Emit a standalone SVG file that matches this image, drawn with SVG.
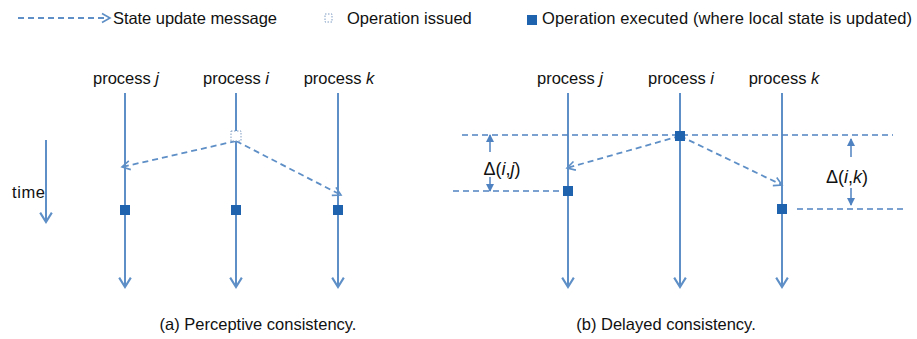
<svg xmlns="http://www.w3.org/2000/svg" width="917" height="339" viewBox="0 0 917 339">
  <style>
    .txt { font-family: "Liberation Sans", Arial, sans-serif; fill: #111; }
    .lbl { font-size: 16.5px; }
    .leg { font-size: 16.5px; }
    .cap { font-size: 16.5px; }
    .delta { font-size: 18px; }
    .proc { stroke: #5e8fc6; stroke-width: 2; fill: none; marker-end: url(#chev); }
    .msg { stroke: #5e8fc6; stroke-width: 1.8; stroke-dasharray: 6 4; fill: none; marker-end: url(#chevMsg); }
    .guide { stroke: #4f82c0; stroke-width: 1.5; stroke-dasharray: 6 4; fill: none; }
    .dim { stroke: #4f82c0; stroke-width: 1.5; fill: none; marker-end: url(#tri); }
    .exec { fill: #1f63ae; }
    .issued { fill: #fff; stroke: #7f9cc0; stroke-width: 1; stroke-dasharray: 1.5 1.5; }
  </style>
  <defs>
    <marker id="chev" markerUnits="userSpaceOnUse" markerWidth="14" markerHeight="14" refX="10" refY="6" orient="auto" viewBox="0 0 12 12">
      <path d="M2,1 L10,6 L2,11" fill="none" stroke="#5e8fc6" stroke-width="1.8"/>
    </marker>
    <marker id="chevMsg" markerUnits="userSpaceOnUse" markerWidth="12" markerHeight="12" refX="10" refY="6" orient="auto" viewBox="0 0 12 12">
      <path d="M2,1.5 L10,6 L2,10.5" fill="none" stroke="#5e8fc6" stroke-width="1.6"/>
    </marker>
    <marker id="tri" markerUnits="userSpaceOnUse" markerWidth="8" markerHeight="8" refX="7" refY="4" orient="auto" viewBox="0 0 8 8">
      <path d="M0,0 L8,4 L0,8 Z" fill="#4f82c0"/>
    </marker>
  </defs>

  <!-- legend -->
  <g id="legend">
    <line class="msg" x1="18" y1="18" x2="110" y2="18"/>
    <text class="txt leg" x="113" y="24" textLength="164">State update message</text>
    <rect class="issued" x="325" y="14" width="7" height="8"/>
    <text class="txt leg" x="347" y="24">Operation issued</text>
    <rect class="exec" x="527" y="15" width="10" height="10"/>
    <text class="txt leg" x="542" y="24" textLength="370">Operation executed (where local state is updated)</text>
  </g>

  <!-- time axis -->
  <g id="time">
    <line class="proc" x1="46" y1="140" x2="46" y2="222"/>
    <text class="txt lbl" x="12" y="198" textLength="33">time</text>
  </g>

  <!-- (a) perceptive consistency -->
  <g id="a-proc-j">
    <text class="txt lbl" x="126" y="84" text-anchor="middle">process <tspan font-style="italic">j</tspan></text>
    <line class="proc" x1="125" y1="93" x2="125" y2="287"/>
  </g>
  <g id="a-proc-i">
    <text class="txt lbl" x="236" y="84" text-anchor="middle">process <tspan font-style="italic">i</tspan></text>
    <line class="proc" x1="236" y1="93" x2="236" y2="287"/>
  </g>
  <g id="a-proc-k">
    <text class="txt lbl" x="339" y="84" text-anchor="middle">process <tspan font-style="italic">k</tspan></text>
    <line class="proc" x1="338" y1="93" x2="338" y2="287"/>
  </g>

  <g id="a-connectors">
    <line class="msg" x1="236" y1="141" x2="122" y2="167"/>
    <line class="msg" x1="236" y1="141" x2="341" y2="195"/>
  </g>

  <g id="a-ops">
    <rect class="issued" x="231" y="131" width="10" height="10"/>
    <rect class="exec" x="120" y="205" width="10" height="10"/>
    <rect class="exec" x="231" y="205" width="10" height="10"/>
    <rect class="exec" x="333" y="205" width="10" height="10"/>
  </g>

  <text id="caption-a" class="txt cap" x="258" y="330" text-anchor="middle">(a) Perceptive consistency.</text>

  <!-- (b) delayed consistency -->
  <g id="b-proc-j">
    <text class="txt lbl" x="570" y="84" text-anchor="middle">process <tspan font-style="italic">j</tspan></text>
    <line class="proc" x1="568" y1="93" x2="568" y2="287"/>
  </g>
  <g id="b-proc-i">
    <text class="txt lbl" x="681" y="84" text-anchor="middle">process <tspan font-style="italic">i</tspan></text>
    <line class="proc" x1="680" y1="93" x2="680" y2="287"/>
  </g>
  <g id="b-proc-k">
    <text class="txt lbl" x="784" y="84" text-anchor="middle">process <tspan font-style="italic">k</tspan></text>
    <line class="proc" x1="782" y1="93" x2="782" y2="287"/>
  </g>

  <g id="b-guides">
    <line class="guide" x1="462" y1="135" x2="893" y2="135"/>
    <line class="guide" x1="453" y1="191" x2="566" y2="191"/>
    <line class="guide" x1="797" y1="209" x2="907" y2="209"/>
  </g>

  <g id="b-connectors">
    <line class="msg" x1="680" y1="136" x2="567" y2="168"/>
    <line class="msg" x1="680" y1="136" x2="782" y2="185"/>
  </g>

  <g id="b-ops">
    <rect class="exec" x="675" y="131" width="10" height="10"/>
    <rect class="exec" x="563" y="186" width="10" height="10"/>
    <rect class="exec" x="777" y="204" width="10" height="10"/>
  </g>

  <g id="delay-ij">
    <line class="dim" x1="490" y1="152" x2="490" y2="135"/>
    <line class="dim" x1="490" y1="177" x2="490" y2="191"/>
    <text class="txt delta" x="502" y="175" text-anchor="middle">Δ(<tspan font-style="italic">i</tspan>,<tspan font-style="italic">j</tspan>)</text>
  </g>
  <g id="delay-ik">
    <line class="dim" x1="851" y1="157" x2="851" y2="139"/>
    <line class="dim" x1="851" y1="188" x2="851" y2="205"/>
    <text class="txt delta" x="847" y="183" text-anchor="middle">Δ(<tspan font-style="italic">i</tspan>,<tspan font-style="italic">k</tspan>)</text>
  </g>

  <text id="caption-b" class="txt cap" x="666" y="330" text-anchor="middle">(b) Delayed consistency.</text>
</svg>
